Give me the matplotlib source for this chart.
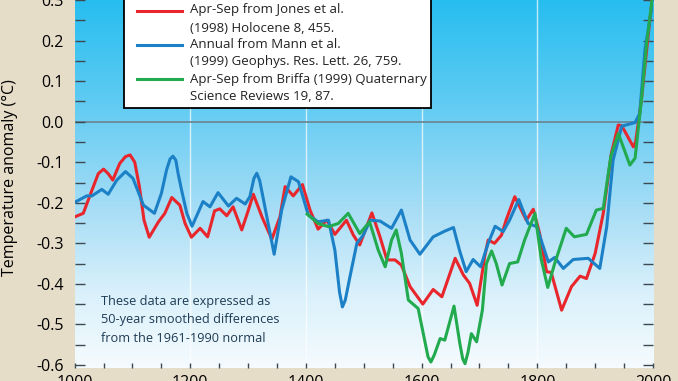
import numpy as np
import matplotlib
matplotlib.use("Agg")
import matplotlib.pyplot as plt
from matplotlib.colors import LinearSegmentedColormap
from matplotlib.patches import Rectangle
from matplotlib.lines import Line2D

plt.rcParams['font.family'] = ['Open Sans', 'DejaVu Sans']

# Jones et al. (1998), Apr-Sep
jones_years = [1000, 1015, 1030, 1041, 1050, 1058, 1066, 1078, 1088, 1096, 1104, 1112, 1120,
               1129, 1145, 1156, 1168, 1182, 1191, 1202, 1217, 1230, 1242, 1251, 1263,
               1274, 1289, 1300, 1309, 1324, 1341, 1355, 1364, 1378, 1394, 1407, 1421,
               1436, 1450, 1470, 1482, 1493, 1502, 1514, 1528, 1540, 1554, 1565, 1580,
               1602, 1620, 1635, 1658, 1672, 1683, 1696, 1709, 1715, 1726, 1738, 1746,
               1761, 1781, 1793, 1804, 1816, 1824, 1842, 1859, 1874, 1885, 1900, 1914,
               1928, 1940, 1946, 1966, 1970, 1980, 1992, 2000]
jones_vals = [-0.235, -0.226, -0.169, -0.128, -0.117, -0.128, -0.144, -0.103, -0.086, -0.082,
              -0.10, -0.16, -0.243, -0.285, -0.247, -0.226, -0.187, -0.206, -0.251, -0.285,
              -0.263, -0.284, -0.22, -0.215, -0.232, -0.210, -0.267, -0.22, -0.179, -0.235,
              -0.290, -0.235, -0.160, -0.183, -0.155, -0.218, -0.265, -0.243, -0.278, -0.243,
              -0.280, -0.304, -0.27, -0.225, -0.284, -0.341, -0.341, -0.354, -0.407, -0.450,
              -0.414, -0.432, -0.337, -0.378, -0.399, -0.453, -0.333, -0.292, -0.30, -0.28,
              -0.243, -0.185, -0.243, -0.216, -0.276, -0.370, -0.372, -0.465, -0.407, -0.381,
              -0.387, -0.325, -0.226, -0.078, -0.008, -0.010, -0.062, -0.05, 0.054, 0.218,
              0.32]

# Mann et al. (1999), annual
mann_years = [1000, 1021, 1030, 1047, 1058, 1073, 1088, 1101, 1119, 1138, 1150, 1159,
              1165, 1170, 1175, 1179, 1185, 1194, 1203, 1213, 1222, 1234, 1248, 1266,
              1280, 1295, 1303, 1310, 1315, 1320, 1329, 1345, 1358, 1374, 1387, 1404,
              1421, 1439, 1450, 1458, 1463, 1468, 1476, 1488, 1499, 1511, 1528, 1548,
              1565, 1580, 1597, 1620, 1640, 1655, 1666, 1677, 1689, 1702, 1715, 1727,
              1741, 1752, 1768, 1784, 1799, 1819, 1830, 1845, 1862, 1888, 1908, 1920,
              1931, 1946, 1969, 1977, 1986, 2000]
mann_vals = [-0.199, -0.183, -0.183, -0.167, -0.179, -0.144, -0.123, -0.140, -0.206, -0.226,
             -0.177, -0.119, -0.092, -0.085, -0.095, -0.128, -0.169, -0.226, -0.258, -0.226,
             -0.197, -0.210, -0.175, -0.208, -0.189, -0.203, -0.185, -0.140, -0.127, -0.145,
             -0.210, -0.327, -0.218, -0.136, -0.148, -0.230, -0.247, -0.243, -0.317, -0.420,
             -0.457, -0.440, -0.383, -0.300, -0.28, -0.243, -0.245, -0.263, -0.218, -0.292,
             -0.327, -0.284, -0.270, -0.261, -0.32, -0.370, -0.340, -0.358, -0.30, -0.258,
             -0.271, -0.243, -0.192, -0.251, -0.259, -0.346, -0.335, -0.362, -0.340, -0.337,
             -0.362, -0.259, -0.095, -0.011, -0.002, 0.02, 0.177, 0.30]

# Briffa (1999), Apr-Sep
briffa_years = [1402, 1421, 1439, 1456, 1473, 1493, 1510, 1525, 1537, 1548, 1556, 1565,
                1577, 1594, 1604, 1611, 1616, 1622, 1632, 1640, 1656, 1666, 1671, 1675,
                1680, 1686, 1695, 1705, 1712, 1721, 1729, 1739, 1752, 1766, 1778, 1796,
                1807, 1818, 1830, 1850, 1864, 1885, 1902, 1914, 1927, 1940, 1960, 1969,
                1980, 1989, 2000]
briffa_vals = [-0.228, -0.251, -0.259, -0.251, -0.226, -0.276, -0.247, -0.317, -0.358, -0.292,
               -0.267, -0.325, -0.440, -0.461, -0.531, -0.580, -0.593, -0.575, -0.535, -0.539,
               -0.455, -0.547, -0.585, -0.597, -0.570, -0.523, -0.543, -0.465, -0.350, -0.319,
               -0.350, -0.403, -0.350, -0.346, -0.292, -0.226, -0.341, -0.409, -0.350, -0.263,
               -0.284, -0.278, -0.218, -0.214, -0.086, -0.029, -0.107, -0.09, 0.054, 0.194,
               0.32]

legend_lines = ["Apr-Sep from Jones et al.", "(1998) Holocene 8, 455.",
                "Annual from Mann et al.", "(1999) Geophys. Res. Lett. 26, 759.",
                "Apr-Sep from Briffa (1999) Quaternary", "Science Reviews 19, 87."]
note_lines = ["These data are expressed as", "50-year smoothed differences",
              "from the 1961-1990 normal"]

red = '#e8262c'
blue = '#1b80c6'
green = '#22aa4e'

W, H = 678, 381
fig = plt.figure(figsize=(W / 100, H / 100), dpi=100, facecolor='#e6ddc9')
ax = fig.add_axes([74.6 / W, 13.3 / H, 578.4 / W, 387.8 / H])

ymin, ymax = -0.607, 0.35
ax.set_xlim(1000, 2000)
ax.set_ylim(ymin, ymax)

# vertical gradient background
grad = np.linspace(0, 1, 256).reshape(-1, 1)
cmap = LinearSegmentedColormap.from_list(
    'sky', [(0, '#f5fbfe'), (0.2, '#d8f0fb'), (0.4, '#a9def6'),
            (0.7, '#5ccaf2'), (1.0, '#1cbbef')])
ax.imshow(grad, cmap=cmap, aspect='auto', extent=[1000, 2000, ymax, ymin], zorder=0)

for yr in [1200, 1400, 1600, 1800]:
    ax.axvline(yr, color='white', lw=1, alpha=0.7, zorder=1)
ax.axhline(0, color='#6b8996', lw=1.3, zorder=1)

ax.plot(jones_years, jones_vals, color=red, lw=2.2, solid_joinstyle='round', zorder=3)
ax.plot(mann_years, mann_vals, color=blue, lw=2.2, solid_joinstyle='round', zorder=3)
ax.plot(briffa_years, briffa_vals, color=green, lw=2.2, solid_joinstyle='round', zorder=3)

for s in ax.spines.values():
    s.set_visible(False)

major_y = [-0.6, -0.5, -0.4, -0.3, -0.2, -0.1, 0.0, 0.1, 0.2, 0.3]
ax.set_xticks(np.arange(1000, 2001, 200))
ax.set_xticks(np.arange(1000, 2001, 50), minor=True)
ax.set_yticks(major_y)
ax.set_yticks(np.arange(-0.6, 0.351, 0.05), minor=True)
ax.set_yticklabels(['%.1f' % v for v in major_y])
ax.tick_params(axis='y', which='both', direction='in', length=7, width=1,
               color='#3d4a52', left=True, right=True, labelsize=11.5, pad=8)
ax.tick_params(axis='x', which='both', direction='in', length=3.5, width=1,
               color='#3d4a52', labelsize=11.5, pad=5)
ax.set_ylabel("Temperature anomaly (°C)", fontsize=11.5)
ax.yaxis.set_label_coords(-0.097, 0.49)

for i, txt in enumerate(note_lines):
    fig.text(101 / W, 1 - (301 + 18.5 * i) / H, txt, fontsize=9.2, color='#1e3c55',
             va='center', ha='left')

# legend box drawn by hand so each handle sits at the first line of its entry
fig.add_artist(Rectangle((124 / W, 1 - 108 / H), (431 - 124) / W, 120 / H,
                         transform=fig.transFigure, facecolor='white',
                         edgecolor='black', lw=1.3, zorder=5))
line_y = [10, 28, 45, 62, 79, 96]
for i, txt in enumerate(legend_lines):
    fig.text(190 / W, 1 - line_y[i] / H, txt, fontsize=9.5, va='center', ha='left',
             color='#222222', zorder=6)
for c, yy in zip([red, blue, green], [line_y[0] + 1, line_y[2], line_y[4]]):
    fig.add_artist(Line2D([137 / W, 182 / W], [1 - yy / H, 1 - yy / H],
                          transform=fig.transFigure, color=c, lw=2.2, zorder=6))

fig.savefig('out.png', dpi=100, facecolor=fig.get_facecolor())
